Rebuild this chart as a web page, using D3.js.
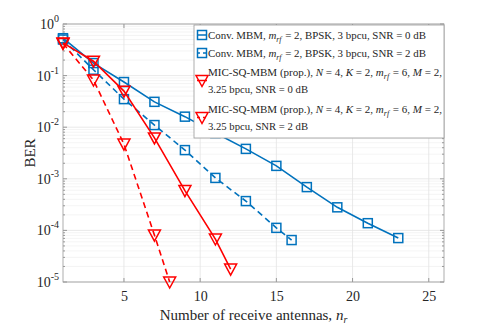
<!DOCTYPE html>
<html><head><meta charset="utf-8">
<script src="https://cdn.jsdelivr.net/npm/d3@7"></script>
<style>body{margin:0;background:#fff}svg{display:block}text{font-family:"Liberation Serif","DejaVu Serif",serif}</style>
</head><body><div id="c"></div>
<script>
const convX0 = [1,3,5,7,9,11,13,15,17,19,21,23];
const convY0 = [0.53,0.175,0.075,0.031,0.016,0.0077,0.0038,0.00178,0.00069,0.00028,0.000138,0.000071];
const convX2 = [1,3,5,7,9,11,13,15,16];
const convY2 = [0.5,0.13,0.035,0.011,0.0036,0.00104,0.00037,0.000112,0.000065];
const micX0 = [1,3,5,7,9,11,12];
const micY0 = [0.43,0.19,0.05,0.0062,0.00059,0.000068,0.0000178];
const micX2 = [1,3,5,7,8];
const micY2 = [0.42,0.082,0.0047,0.000081,0.00001];
const xTicks = [5,10,15,20,25];
const yExps = [0,-1,-2,-3,-4,-5];
const legendLabels = [
  ["Conv. MBM, |m_rf| = 2, BPSK, 3 bpcu, SNR = 0 dB"],
  ["Conv. MBM, |m_rf| = 2, BPSK, 3 bpcu, SNR = 2 dB"],
  ["MIC-SQ-MBM (prop.), |N| = 4, |K| = 2, |m_rf| = 6, |M| = 2,","3.25 bpcu, SNR = 0 dB"],
  ["MIC-SQ-MBM (prop.), |N| = 4, |K| = 2, |m_rf| = 6, |M| = 2,","3.25 bpcu, SNR = 2 dB"]
];
const W=491,H=327, L=63,R=444,T=24,B=282;
const blue="#0072BD", red="#FF0000";
const svg=d3.select("#c").append("svg").attr("width",W).attr("height",H);
const x=d3.scaleLinear().domain([1,26]).range([L,R]);
const y=d3.scaleLog().domain([1e-5,1]).range([B,T]);
// grid
const g=svg.append("g");
for(let e=-5;e<0;e++){for(let k=2;k<=9;k++){const v=k*Math.pow(10,e);
  g.append("line").attr("x1",L).attr("x2",R).attr("y1",y(v)).attr("y2",y(v)).attr("stroke","#ececec").attr("stroke-width",0.6);}}
yExps.forEach(e=>g.append("line").attr("x1",L).attr("x2",R).attr("y1",y(Math.pow(10,e))).attr("y2",y(Math.pow(10,e))).attr("stroke","#e3e3e3").attr("stroke-width",0.8));
xTicks.forEach(v=>g.append("line").attr("x1",x(v)).attr("x2",x(v)).attr("y1",T).attr("y2",B).attr("stroke","#e3e3e3").attr("stroke-width",0.8));
// axes
const xa=svg.append("g").attr("transform",`translate(0,${B})`).call(d3.axisBottom(x).tickValues(xTicks).tickSize(0).tickPadding(9));
xa.attr("font-family",null);
xa.select(".domain").remove();
xa.selectAll("text").attr("font-size",14).attr("fill","#262626").attr("font-family","Liberation Serif");
const ya=svg.append("g").attr("transform",`translate(${L},0)`).call(d3.axisLeft(y).tickValues(yExps.map(e=>Math.pow(10,e))).tickSize(0).tickFormat(""));
ya.select(".domain").remove();
yExps.forEach(e=>{const t=svg.append("text").attr("x",L-4).attr("y",y(Math.pow(10,e))+5).attr("text-anchor","end").attr("font-size",14).attr("fill","#262626");
  t.append("tspan").text("10");
  t.append("tspan").attr("dy",-7).attr("font-size",10).text(e);});
// box and ticks
svg.append("rect").attr("x",L).attr("y",T).attr("width",R-L).attr("height",B-T).attr("fill","none").attr("stroke","#999").attr("stroke-width",0.8);
xTicks.forEach(v=>{svg.append("line").attr("x1",x(v)).attr("x2",x(v)).attr("y1",B).attr("y2",B-4).attr("stroke","#999");svg.append("line").attr("x1",x(v)).attr("x2",x(v)).attr("y1",T).attr("y2",T+4).attr("stroke","#999");});
yExps.forEach(e=>{const yy=y(Math.pow(10,e));svg.append("line").attr("x1",L).attr("x2",L+4).attr("y1",yy).attr("y2",yy).attr("stroke","#999");svg.append("line").attr("x1",R).attr("x2",R-4).attr("y1",yy).attr("y2",yy).attr("stroke","#999");});
for(let e=-5;e<0;e++){for(let k=2;k<=9;k++){const yy=y(k*Math.pow(10,e));
  svg.append("line").attr("x1",L).attr("x2",L+2).attr("y1",yy).attr("y2",yy).attr("stroke","#999");
  svg.append("line").attr("x1",R).attr("x2",R-2).attr("y1",yy).attr("y2",yy).attr("stroke","#999");}}
// labels
svg.append("text").attr("x",(L+R)/2).attr("y",320).attr("text-anchor","middle").attr("font-size",15).attr("fill","#262626")
  .html('Number of receive antennas, <tspan font-style="italic">n</tspan><tspan font-style="italic" font-size="10" dy="3">r</tspan>');
svg.append("text").attr("transform",`translate(35,${(T+B)/2}) rotate(-90)`).attr("text-anchor","middle").attr("font-size",15).attr("fill","#262626").text("BER");
// series
const series=[
 {xs:convX0,ys:convY0,c:blue,dash:null,m:"sq"},
 {xs:convX2,ys:convY2,c:blue,dash:"6,4",m:"sq"},
 {xs:micX0,ys:micY0,c:red,dash:null,m:"tri"},
 {xs:micX2,ys:micY2,c:red,dash:"6,4",m:"tri"}];
const line=d3.line().x(d=>x(d[0])).y(d=>y(d[1]));
function marker(sel,cx,cy,s){
  if(s.m==="sq") sel.append("rect").attr("x",cx-4.5).attr("y",cy-4.5).attr("width",9).attr("height",9).attr("fill","none").attr("stroke",s.c).attr("stroke-width",1.5);
  else sel.append("path").attr("d",`M${cx-6},${cy-5}L${cx+6},${cy-5}L${cx},${cy+6}Z`).attr("fill","none").attr("stroke",s.c).attr("stroke-width",1.5);
}
series.forEach(s=>{
  const pts=s.xs.map((v,i)=>[v,s.ys[i]]);
  svg.append("path").datum(pts).attr("d",line).attr("fill","none").attr("stroke",s.c).attr("stroke-width",1.6).attr("stroke-dasharray",s.dash);
  const mg=svg.append("g");
  pts.forEach(p=>marker(mg,x(p[0]),y(p[1]),s));
});
// legend
const lg=svg.append("g");
lg.append("rect").attr("x",194).attr("y",25).attr("width",250).attr("height",113).attr("fill","#fff").attr("stroke","#999").attr("stroke-width",0.8);
const rowY=[[35],[53],[72,89],[109,126]];
const rowW=[[218],[218],[234,100],[234,100]];
function richText(t,str){
  const parts=str.split("|");
  parts.forEach((p,i)=>{
    if(i%2===0){ if(p) t.append("tspan").text(p); return;}
    if(p==="m_rf"){t.append("tspan").attr("font-style","italic").text("m");
      t.append("tspan").attr("font-style","italic").attr("font-size",8).attr("dy",2.5).text("rf");
      t.append("tspan").attr("dy",-2.5).text("\u200A");}
    else t.append("tspan").attr("font-style","italic").text(p);
  });
}
legendLabels.forEach((lab,i)=>{
  const ys=rowY[i]; const my=(ys[0]+ys[ys.length-1])/2;
  const s=series[i];
  lg.append("line").attr("x1",197).attr("x2",207).attr("y1",my).attr("y2",my).attr("stroke",s.c).attr("stroke-width",1.5).attr("stroke-dasharray",s.dash?"3,3":null);
  marker(lg,202,my,s);
  lab.forEach((txt,j)=>{const t=lg.append("text").attr("x",208).attr("y",ys[j]+4).attr("font-size",11).attr("fill","#262626")
    .attr("textLength",rowW[i][j]).attr("lengthAdjust","spacingAndGlyphs");richText(t,txt);});
});
</script></body></html>
